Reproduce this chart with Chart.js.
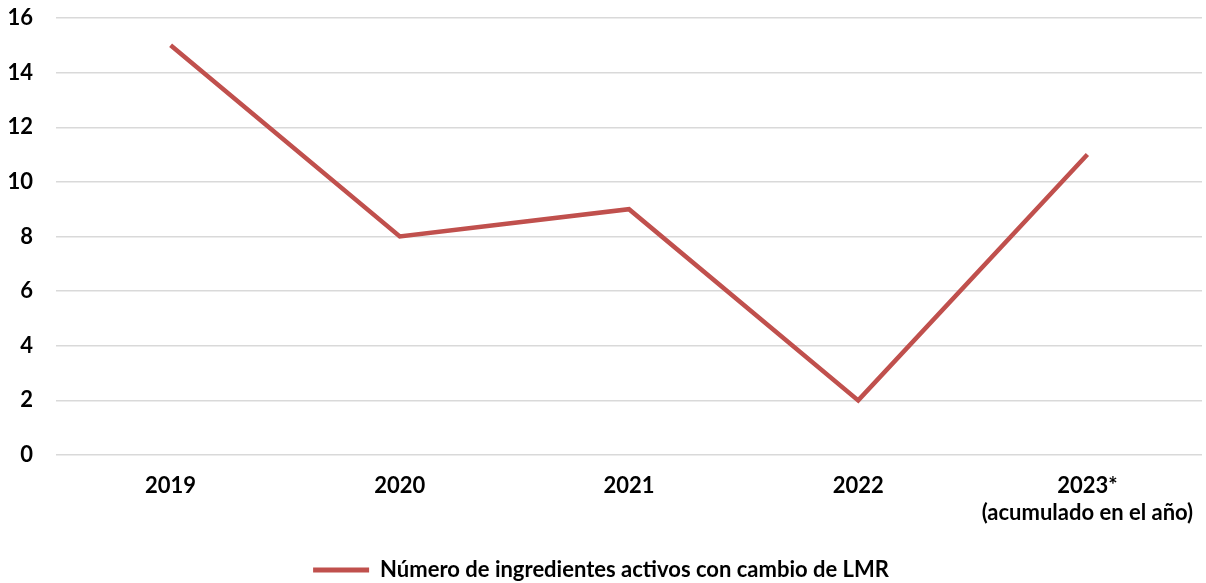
<!DOCTYPE html>
<html>
<head>
<meta charset="utf-8">
<script src="https://cdn.jsdelivr.net/npm/chart.js@4"></script>
<style>
  html, body { margin: 0; padding: 0; background: #fff; }
  #wrap { width: 1206px; height: 583px; }
</style>
</head>
<body>
<div id="wrap"><canvas id="chart" width="1206" height="583"></canvas></div>
<script>
const years = ['2019', '2020', '2021', '2022', ['2023*', '(acumulado en el año)']];
const ingredientes = [15, 8, 9, 2, 11];
const serieLabel = 'Número de ingredientes activos con cambio de LMR';
const yTicks = [0, 2, 4, 6, 8, 10, 12, 14, 16];

const rojo = '#c0504d';
const fuente = { family: 'Lato, "Open Sans", sans-serif', size: 22, weight: 'bold' };

// tick marks kept invisible, only used to push the labels away from the plot
const chart = new Chart(document.getElementById('chart'), {
  type: 'line',
  data: {
    labels: years,
    datasets: [{
      label: serieLabel,
      data: ingredientes,
      borderColor: rojo,
      backgroundColor: rojo,
      borderWidth: 4.5,
      pointRadius: 0,
      tension: 0,
      fill: false
    }]
  },
  options: {
    responsive: false,
    animation: false,
    layout: { padding: { left: 0, right: 4, top: 18, bottom: -8 } },
    scales: {
      x: {
        offset: true,
        grid: { color: 'transparent', drawTicks: true, tickLength: 16, tickColor: 'transparent' },
        border: { display: false },
        ticks: { color: '#000', font: fuente, padding: 2, maxRotation: 0 },
        afterFit: (s) => { s.height = 102; }
      },
      y: {
        min: 0,
        max: 16,
        afterBuildTicks: (s) => { s.ticks = yTicks.map(v => ({ value: v })); },
        grid: { color: '#d9d9d9', lineWidth: 1.5, drawTicks: true, tickLength: 20, tickColor: 'transparent' },
        border: { display: false },
        ticks: { color: '#000', font: fuente, padding: 3 },
        afterFit: (s) => { s.width = 56; }
      }
    },
    plugins: {
      tooltip: { enabled: false },
      legend: {
        position: 'bottom',
        labels: {
          color: '#000',
          font: fuente,
          boxWidth: 56,
          boxHeight: 5,
          padding: 2,
          generateLabels: (c) => [{
            text: serieLabel,
            fillStyle: rojo,
            strokeStyle: rojo,
            lineWidth: 0,
            datasetIndex: 0
          }]
        }
      }
    }
  }
});
</script>
</body>
</html>
